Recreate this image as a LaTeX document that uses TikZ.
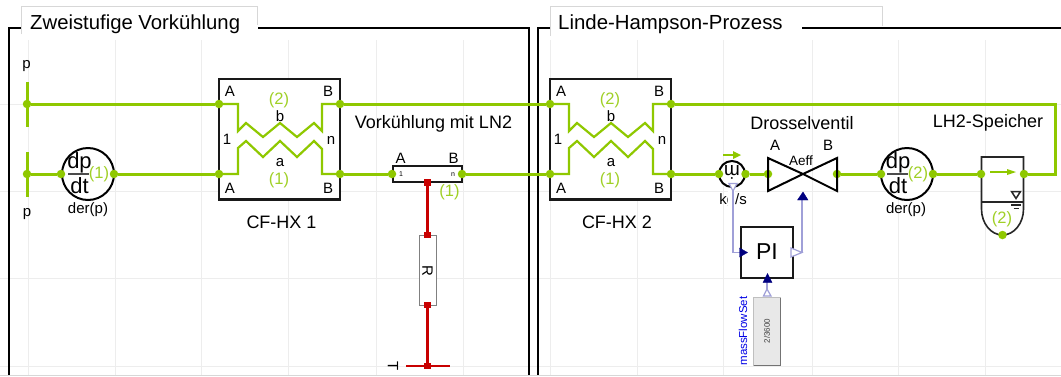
\documentclass[tikz,border=0pt]{standalone}
\usepackage{fontspec}
\setmainfont{Liberation Sans}
\usetikzlibrary{calc}
\pgfdeclarelayer{back}
\pgfdeclarelayer{conn}
\pgfsetlayers{back,conn,main}
\definecolor{mgreen}{HTML}{8FC800}
\definecolor{mred}{HTML}{C80000}
\definecolor{mblue}{HTML}{00007F}
\definecolor{lblue}{HTML}{A0A0D8}
\definecolor{gridc}{HTML}{EDEDED}
\newcommand{\fs}[1]{\fontsize{#1}{#1}\selectfont}
\tikzset{
 x=1pt,y=-1pt,
 gport/.style={circle,fill=mgreen,inner sep=0pt,minimum size=8.5pt},
 rport/.style={rectangle,fill=mred,inner sep=0pt,minimum size=6.5pt},
 pt/.style={inner sep=0pt,outer sep=0pt,minimum size=0pt},
 gmain/.style={draw=mgreen,line width=3pt},
 gthin/.style={draw=mgreen,line width=2.2pt},
 redline/.style={draw=mred,line width=2.8pt},
 bline/.style={draw=lblue,line width=1.2pt},
 blackbox/.style={draw=black!90,line width=2.2pt,fill=white,inner sep=0pt,rectangle},
 lbl/.style={inner sep=0pt,font=\fs{15}},
 lblbig/.style={inner sep=0pt,font=\fs{18}},
 gnum/.style={inner sep=0pt,font=\fs{16.5},text=mgreen!85!white},
 panel/.style={draw=black,line width=2pt},
 circ/.style={circle,draw=black,line width=2pt,fill=white,inner sep=0pt},
 ftri/.style={fill=mblue,draw=mblue,line width=.4pt},
 wtri/.style={fill=white,draw=lblue,line width=1.2pt},
}
\begin{document}
\begin{tikzpicture}
\useasboundingbox (0,0) rectangle (1061,376);
\begin{pgfonlayer}{back}
 \fill[white] (0,0) rectangle (1061,376);
 \foreach \x in {28,115,201,288,376,463,550,637,723,812,898,985}
  \draw[gridc,line width=.8pt] (\x,40) -- (\x,376);
 \foreach \y in {104,191,278,366}
  \draw[gridc,line width=.8pt] (0,\y) -- (1061,\y);
 \draw[panel] (9,376) -- (9,27.5) -- (528.5,27.5) -- (528.5,376);
 \draw[panel] (538,376) -- (538,27.5) -- (1061,27.5);
 \fill[white] (21.5,6.5) rectangle (257.5,36);
 \draw[gridc!80!gray,line width=.8pt] (21.5,34) -- (21.5,6.5) -- (257.5,6.5) -- (257.5,25);
 \fill[white] (550,6.5) rectangle (802,36);
 \draw[gridc!80!gray,line width=.8pt] (550,36) -- (550,6.5) -- (882,6.5) -- (882,26);
 \draw[gridc!80!gray,line width=1pt] (0,375) -- (1061,375);
 % boxes
 \node[blackbox,minimum width=121pt,minimum height=120.5pt] (hx1) at (279.75,139.25) {};
 \node[blackbox,minimum width=121pt,minimum height=120.5pt] (hx2) at (610.25,139.25) {};
 \node[blackbox,minimum width=69pt,minimum height=16pt] (pipe) at (427.5,174) {};
 \node[rectangle,draw=gray,fill=white,line width=1pt,inner sep=0pt,minimum width=17pt,minimum height=70pt] (res) at (427.5,270) {};
 \node[blackbox,minimum width=52pt,minimum height=51pt] (pi) at (767,252.5) {};
 \node[rectangle,fill=black!9,draw=black!25,line width=1pt,inner sep=0pt,minimum width=27pt,minimum height=68pt] (const) at (767,331) {};
 \draw[black!55,line width=1pt] (753.5,365.5) -- (780.5,365.5) -- (780.5,297.5);
\end{pgfonlayer}

% ports
\node[gport] (railA) at (27,104) {};
\node[gport] (railB) at (27,174) {};
\node[gport] (d1in) at (61,174) {};
\node[gport] (d1out) at (114,174) {};
\node[gport] (h1aA) at (219,174) {};
\node[gport] (h1bA) at (219,104) {};
\node[gport] (h1aB) at (340,174) {};
\node[gport] (h1bB) at (340,104) {};
\node[gport] (pipeA) at (392,174) {};
\node[gport] (pipeB) at (462,174) {};
\node[gport] (h2aA) at (550,174) {};
\node[gport] (h2bA) at (550,104) {};
\node[gport] (h2aB) at (671,174) {};
\node[gport] (h2bB) at (671,104) {};
\node[gport] (senIn) at (719,174) {};
\node[gport] (senOut) at (745.5,174) {};
\node[gport] (vA) at (768,174) {};
\node[gport] (vB) at (837,174) {};
\node[gport] (d2in) at (881,174) {};
\node[gport] (d2out) at (933,174) {};
\node[gport] (stIn) at (981,174) {};
\node[gport] (stOut) at (1024,174) {};
\node[gport] (stBot) at (1002.5,235) {};
\node[rport] (pipeH) at (427.5,182.5) {};
\node[rport] (resT) at (427.5,235) {};
\node[rport] (resB) at (427.5,305) {};
\node[rport] (gnd) at (427.5,366) {};
\coordinate (railAt) at (27,82);
\coordinate (railAb) at (27,127);
\coordinate (railBt) at (27,152);
\coordinate (railBb) at (27,197);
\coordinate (gndL) at (406,366);
\coordinate (gndR) at (450,366);
\coordinate (corner1) at (1055,104);
\coordinate (corner2) at (1055,174);

% circles on back layer
\begin{pgfonlayer}{back}
 \node[circ,minimum size=52pt] (der1) at (88,174) {};
 \node[circ,minimum size=52pt] (der2) at (907,174) {};
 \node[circ,minimum size=26pt] (sen) at (732,174) {};
 \draw[black!85,line width=1.6pt,fill=white] (981.5,157) -- (1023.5,157) -- (1023.5,209) arc[start angle=0,end angle=-90,x radius=21,y radius=-26] arc[start angle=-90,end angle=-180,x radius=21,y radius=-26] -- cycle;
 \draw[black!85,line width=1.6pt] (981.5,202) -- (1023.5,202);
\end{pgfonlayer}

% connectors
\begin{pgfonlayer}{conn}
 \draw[gmain] (railAt) -- (railAb);
 \draw[gmain] (railBt) -- (railBb);
 \draw[gmain] (railA) -- (h1bA);
 \draw[gmain] (railB) -- (d1in);
 \draw[gmain] (d1out) -- (h1aA);
 \draw[gmain] (h1aB) -- (pipeA);
 \draw[gmain] (pipeB) -- (h2aA);
 \draw[gmain] (h1bB) -- (h2bA);
 \draw[gmain] (h2aB) -- (senIn);
 \draw[gmain] (senOut) -- (vA);
 \draw[gmain] (vB) -- (d2in);
 \draw[gmain] (d2out) -- (stIn);
 \draw[gmain,line join=miter] (h2bB) -- (corner1) -- (corner2) -- (stOut);
 \foreach \a/\b/\c/\d/\o in {h1bA/h1bB/h1aA/h1aB/219,h2bA/h2bB/h2aA/h2aB/550}{
  \draw[gthin,line join=miter] (\a.center) -- (\o+19,104) -- (\o+19,131) -- (\o+27,123) -- (\o+44,137) -- (\o+61,123) -- (\o+78,137) -- (\o+95,123) -- (\o+103,131) -- (\o+103,104) -- (\b.center);
  \draw[gthin,line join=miter] (\c.center) -- (\o+19,174) -- (\o+19,148) -- (\o+27,141) -- (\o+44,157) -- (\o+61,141) -- (\o+78,157) -- (\o+95,141) -- (\o+103,149) -- (\o+103,174) -- (\d.center);
 }
 \draw[redline] (pipeH) -- (resT);
 \draw[redline] (resB) -- (gnd);
 \draw[redline] (gndL) -- (gndR);
\end{pgfonlayer}

% valve
\coordinate (vc) at (803,174);
\draw[black,line width=2pt,line join=miter] (vc) -- (768,158) -- (768,191) -- (vc) -- (837,158) -- (837,191) -- cycle;

% green arrows
\draw[mgreen,line width=2pt] (723,155) -- (735,155);
\fill[mgreen] (733,151) -- (741,155) -- (733,159) -- cycle;
\draw[mgreen,line width=1.4pt] (990,172) -- (1008,172);
\fill[mgreen] (1007,169) -- (1016,172) -- (1007,175) -- cycle;

% storage symbols
\draw[black!85,line width=1.5pt] (1011.5,191.5) -- (1020.5,191.5) -- (1016,198.5) -- cycle;
\draw[black!85,line width=1.2pt] (1011,205) -- (1021,205);
\draw[black!85,line width=1.2pt] (1013.5,208.5) -- (1018.5,208.5);

% texts
\node[inner sep=0pt,anchor=west,font=\fs{20.3}] (t1) at (30,24) {Zweistufige Vorkühlung};
\node[inner sep=0pt,anchor=west,font=\fs{20.4}] (t2) at (558,24) {Linde-Hampson-Prozess};
\node[lbl] (pA) at (26.5,66) {p};
\node[lbl] (pB) at (27,214) {p};
\node[lblbig,font=\fs{22}] (dp1) at (79.5,163) {dp};
\node[lblbig,font=\fs{22}] (dt1) at (79.5,186) {dt};
\draw[black!70,line width=1.2pt] (68,174) -- (89,174);
\node[gnum] (n1) at (99,174) {(1)};
\node[lbl] (der1l) at (88,210) {der(p)};
\node[lblbig,font=\fs{22}] (dp2) at (898,163) {dp};
\node[lblbig,font=\fs{22}] (dt2) at (898,186) {dt};
\draw[black!70,line width=1.2pt] (887,174) -- (908,174);
\node[gnum] (n2) at (918,174) {(2)};
\node[lbl] (der2l) at (906,210) {der(p)};
\foreach \o/\na/\la/\cx in {219/h1/{CF-HX 1}/281.5,550/h2/{CF-HX 2}/617}{
 \node[lbl] (\na LA) at (\o+11,91) {A};
 \node[lbl] (\na LB) at (\o+109,91) {B};
 \node[lbl] (\na La) at (\o+11,188) {A};
 \node[lbl] (\na Lb) at (\o+109,188) {B};
 \node[lbl] (\na Lone) at (\o+8,139) {1};
 \node[lbl] (\na Ln) at (\o+112,140) {n};
 \node[gnum] (\na N2) at (\o+60,100) {(2)};
 \node[lbl] (\na Sb) at (\o+61,116) {b};
 \node[lbl] (\na Sa) at (\o+61,163) {a};
 \node[gnum] (\na N1) at (\o+60,180) {(1)};
 \node[lblbig] (\na name) at (\cx,222) {\la};
}
\node[lblbig] (lnt) at (433.5,124) {Vorkühlung mit LN2};
\node[lbl] (pa) at (400.5,158) {A};
\node[lbl] (pb) at (453.5,158) {B};
\node[lbl,font=\fs{7}] (p1) at (401,174.5) {1};
\node[lbl,font=\fs{7}] (pn) at (453,174.5) {n};
\node[gnum] (pn1) at (449.5,192) {(1)};
\node[lbl,rotate=-90] (rl) at (427.5,271) {R};
\node[lbl,rotate=-90] (tl) at (393,366) {T};
\node[lblbig] (dv) at (802,123) {Drosselventil};
\node[lbl] (va) at (775,145) {A};
\node[lbl] (vb) at (828,145) {B};
\node[lbl,font=\fs{13.5}] (ae) at (801,161) {Aeff};
\node[lblbig] (lh) at (988,123) {LH2-Speicher};
\node[gnum] (sn) at (1002,219) {(2)};
\node[lbl,rotate=180,font=\fs{19}] (m) at (732,172) {ṁ};
\node[lbl] (kg) at (733,201) {kg/s};
\fill[white] (728,190) rectangle (735,210);
\node[font=\fs{23},inner sep=0pt] (pil) at (767,252) {PI};
\node[lbl,rotate=90,font=\fs{11.5},text=blue!90!black] (mf) at (743,331) {massFlowSet};
\node[lbl,rotate=90,font=\fs{8},text=black!75] (cv) at (767,331) {2/3600};

% signal lines
\coordinate (sigA) at (733,191);
\coordinate (sigB) at (733,252.5);
\coordinate (piIn) at (741,252.5);
\coordinate (piOut) at (802,252.5);
\coordinate (vIn) at (802,200);
\coordinate (cOut) at (767,289);
\coordinate (piIn2) at (767,282);
\draw[bline] (sigA) -- (sigB) -- (piIn);
\draw[bline] (piOut) -- (vIn);
\draw[bline] (cOut) -- (piIn2);
\draw[wtri] (729,183.5) -- (737,183.5) -- (733,191) -- cycle;
\draw[ftri] (739.5,248) -- (747.5,252.5) -- (739.5,257) -- cycle;
\draw[wtri] (791,248) -- (802,252.5) -- (791,257) -- cycle;
\draw[ftri] (797.5,200) -- (803,192) -- (808,200) -- cycle;
\draw[ftri] (763,282.5) -- (767.5,273.5) -- (772,282.5) -- cycle;
\draw[wtri] (763.5,296) -- (767,289) -- (771,296) -- cycle;
\end{tikzpicture}
\end{document}
